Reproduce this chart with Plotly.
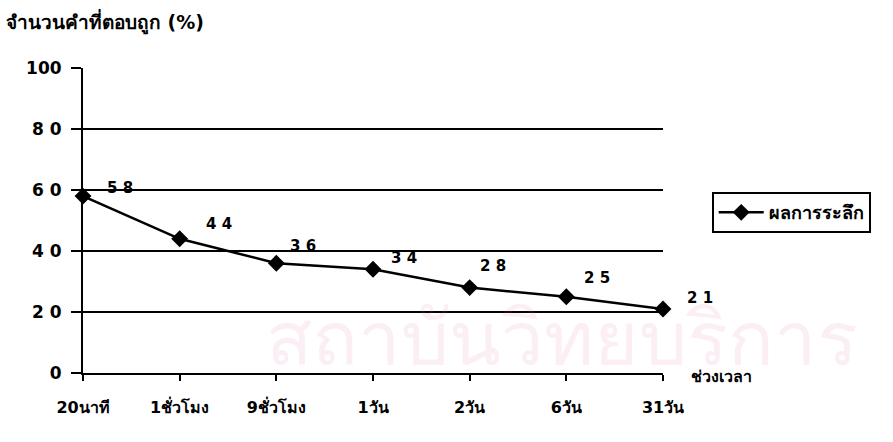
import plotly.graph_objects as go

# Recall over time
periods = ["20นาที", "1ชั่วโมง", "9ชั่วโมง", "1วัน", "2วัน", "6วัน", "31วัน"]
recall = [58, 44, 36, 34, 28, 25, 21]
y_ticks = [0, 20, 40, 60, 80, 100]
y_tick_text = ["0", "2 0", "4 0", "6 0", "8 0", "100"]
series_name = "ผลการระลึก"
y_title = "จำนวนคำที่ตอบถูก (%)"
x_title = "ช่วงเวลา"
watermark = "สถาบันวิทยบริการ"

# pixel nudges for the value labels
label_dx = [37, 39, 27, 31, 23, 31, 37]
label_dy = [8, 15, 17, 11, 22, 19, 11]

FONT = "DejaVu Sans, Noto Sans, sans-serif"
xs = list(range(len(periods)))

fig = go.Figure()

# faint watermark text, drawn first so it sits under the curve
fig.add_trace(go.Scatter(
    x=[4.95], y=[9], mode="text", text=[watermark], showlegend=False,
    hoverinfo="skip", cliponaxis=False,
    textfont=dict(family=FONT, size=76, color="rgba(220,110,160,0.11)"),
))

fig.add_trace(go.Scatter(
    x=xs, y=recall, mode="lines+markers", name=series_name,
    line=dict(color="black", width=2.5),
    marker=dict(symbol="diamond", size=13, color="black"),
    cliponaxis=False,
))

for x, v, dx, dy in zip(xs, recall, label_dx, label_dy):
    fig.add_annotation(
        x=x, y=v, text=" ".join(str(v)), showarrow=False,
        xshift=dx, yshift=dy,
        font=dict(family=FONT, size=15, color="black", weight="bold"),
    )

fig.add_annotation(
    xref="paper", yref="paper", x=-0.137, y=1.151, xanchor="left", yanchor="middle",
    text=y_title, showarrow=False,
    font=dict(family=FONT, size=19, color="black", weight="bold"),
)
fig.add_annotation(
    xref="paper", yref="paper", x=1.045, y=-0.013, xanchor="left", yanchor="middle",
    text=x_title, showarrow=False,
    font=dict(family=FONT, size=16, color="black", weight="bold"),
)

fig.update_layout(
    width=893, height=442,
    margin=dict(l=83, r=230, t=68, b=69),
    paper_bgcolor="white", plot_bgcolor="rgba(0,0,0,0)",
    showlegend=True,
    legend=dict(
        x=1.084, y=0.593, xanchor="left", yanchor="top",
        bordercolor="black", borderwidth=2, bgcolor="white",
        itemwidth=45,
        font=dict(family=FONT, size=18, color="black", weight="bold"),
    ),
    font=dict(family=FONT, color="black"),
)
fig.update_xaxes(
    range=[0, 6], tickmode="array", tickvals=xs, ticktext=periods,
    showline=True, linecolor="black", linewidth=2,
    ticks="outside", ticklen=6, tickwidth=2, tickcolor="black",
    showgrid=False, zeroline=False, ticklabelstandoff=13,
    tickfont=dict(family=FONT, size=16, color="black", weight="bold"),
)
fig.update_yaxes(
    range=[0, 100], tickmode="array", tickvals=y_ticks, ticktext=y_tick_text,
    showline=True, linecolor="black", linewidth=2,
    ticks="outside", ticklen=10, tickwidth=2, tickcolor="black",
    showgrid=True, gridcolor="black", gridwidth=2, zeroline=False,
    ticklabelstandoff=6,
    tickfont=dict(family=FONT, size=17, color="black", weight="bold"),
)

fig.write_html("out.html")
